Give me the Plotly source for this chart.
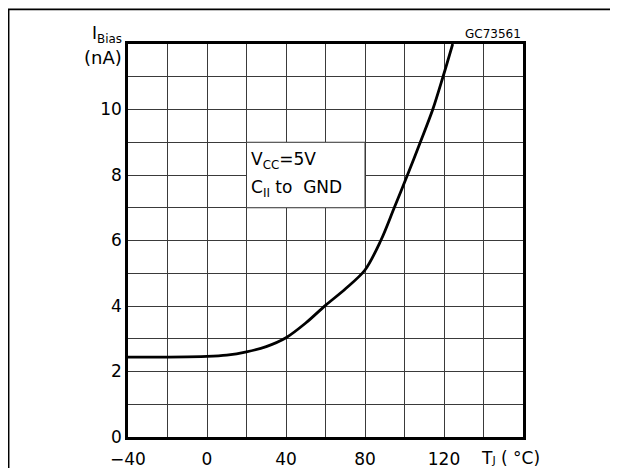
"""Input bias current vs junction temperature (datasheet curve)."""

import plotly.graph_objects as go

# curve
temp_c = [-40, -20, 0, 10, 20, 30, 40, 50, 60, 70, 80, 88, 94.8, 101.5, 108, 114.3, 119.5, 124.4]
i_bias_na = [2.44, 2.44, 2.46, 2.5, 2.6, 2.76, 3.03, 3.48, 4.02, 4.52, 5.1, 6.0, 7.0, 8.0, 9.0, 10.0, 11.0, 12.0]

x_ticks = list(range(-40, 161, 20))
x_labels = ["\u221240", "", "0", "", "40", "", "80", "", "120", "", ""]
y_ticks = list(range(0, 13))
y_labels = ["0", "", "2", "", "4", "", "6", "", "8", "", "10", "", ""]

FONT = "DejaVu Sans"
GRID = "#3a3a3a"

fig = go.Figure()
fig.add_trace(
    go.Scatter(
        x=temp_c,
        y=i_bias_na,
        mode="lines",
        line=dict(color="black", width=2.8, shape="spline", smoothing=0.9),
        showlegend=False,
        hoverinfo="skip",
    )
)

# white box for the test-condition note
fig.add_shape(
    type="rect", x0=20, x1=80, y0=7, y1=9, xref="x", yref="y",
    fillcolor="white", line=dict(color=GRID, width=1), layer="above",
)
fig.add_annotation(
    x=21.5, y=8.45, xref="x", yref="y", xanchor="left", showarrow=False,
    text="V<sub>CC</sub>=5V", font=dict(family=FONT, size=17, color="black"),
)
fig.add_annotation(
    x=21.5, y=7.6, xref="x", yref="y", xanchor="left", showarrow=False,
    text="C<sub>II</sub> to  GND", font=dict(family=FONT, size=17, color="black"),
)

# axis captions and figure code
fig.add_annotation(
    x=137.5, y=0, xref="x", yref="paper", xanchor="left", yanchor="top",
    yshift=-9, showarrow=False,
    text="T<span style='font-size:11px'>J</span> ( \u00b0C)",
    font=dict(family=FONT, size=17, color="black"),
)
fig.add_annotation(
    x=0, y=1.0, xref="paper", yref="paper", xanchor="right", yanchor="bottom",
    xshift=-4, yshift=-4, showarrow=False, align="right",
    text="I<sub>Bias</sub>", font=dict(family=FONT, size=17, color="black"),
)
fig.add_annotation(
    x=0, y=1.0, xref="paper", yref="paper", xanchor="right", yanchor="top",
    xshift=-4, yshift=-1, showarrow=False,
    text="(nA)", font=dict(family=FONT, size=18, color="black"),
)
fig.add_annotation(
    x=1, y=1.0, xref="paper", yref="paper", xanchor="right", yanchor="bottom",
    yshift=1, showarrow=False,
    text="GC73561", font=dict(family=FONT, size=12, color="black"),
)

# page frame lines from the datasheet
fig.add_shape(type="line", xref="paper", yref="paper", x0=-0.33, x1=1.25, y0=1.088, y1=1.088,
              line=dict(color="black", width=1.8))
fig.add_shape(type="line", xref="paper", yref="paper", x0=-0.302, x1=-0.302, y0=1.088, y1=-0.12,
              line=dict(color="black", width=1.5))

fig.update_xaxes(
    range=[-40, 160], tickvals=x_ticks, ticktext=x_labels, tickangle=0, automargin=False,
    ticklabelstandoff=5,
    showgrid=True, gridcolor=GRID, gridwidth=1, zeroline=False,
    showline=True, linecolor="black", linewidth=2.5, mirror=True,
    ticks="", tickfont=dict(family=FONT, size=17, color="black"),
)
fig.update_yaxes(
    range=[0, 12], tickvals=y_ticks, ticktext=y_labels, automargin=False,
    showgrid=True, gridcolor=GRID, gridwidth=1, zeroline=False,
    showline=True, linecolor="black", linewidth=2.5, mirror=True,
    ticks="", tickfont=dict(family=FONT, size=17, color="black"),
)

# page body adds an 8px margin, so the figure is offset by 8px
fig.update_layout(
    width=610, height=466,
    margin=dict(l=120, r=95, t=36, b=37),
    paper_bgcolor="white", plot_bgcolor="white",
    showlegend=False,
)

fig.write_html("out.html")
